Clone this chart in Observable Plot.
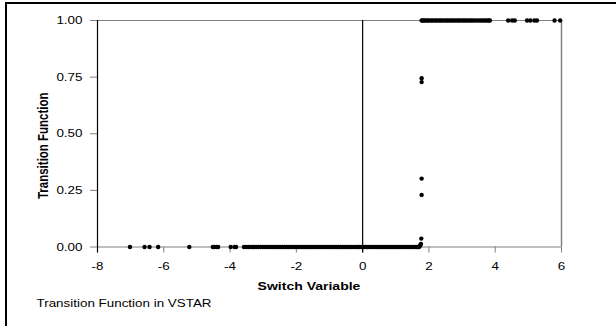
<!DOCTYPE html>
<html>
<head>
<meta charset="utf-8">
<script src="https://cdn.jsdelivr.net/npm/d3@7"></script>
<script src="https://cdn.jsdelivr.net/npm/@observablehq/plot@0.6"></script>
<style>
  html, body { margin: 0; padding: 0; background: #fff; }
  #wrap { position: relative; width: 616px; height: 326px; overflow: hidden; }
  #bt { position: absolute; left: 5px; top: 2px; width: 611px; height: 2px; background: #000; }
  #bl { position: absolute; left: 5px; top: 2px; width: 2px; height: 324px; background: #000; }
  svg text { font-family: "Liberation Sans", Arial, sans-serif; }
</style>
</head>
<body>
<div id="wrap"><div id="bt"></div><div id="bl"></div></div>
<script>
// Switch variable values with transition function ≈ 0 (lower band)
const lowX = [-7.02, -6.58, -6.43, -6.17, -5.23, -4.52, -4.47, -4.40, -4.36, -3.98, -3.86, -3.82,
  -3.58, -3.52, -3.45, -3.40, -3.33, -3.27, -3.21, -3.14, -3.08, -3.02, -2.95, -2.90, -2.84, -2.77,
  -2.71, -2.66, -2.60, -2.53, -2.48, -2.42, -2.36, -2.30, -2.24, -2.18, -2.12, -2.06, -2.01, -1.95,
  -1.89, -1.83, -1.77, -1.71, -1.66, -1.60, -1.54, -1.48, -1.42, -1.37, -1.31, -1.25, -1.19, -1.13,
  -1.08, -1.02, -0.96, -0.90, -0.85, -0.79, -0.73, -0.67, -0.61, -0.56, -0.50, -0.44, -0.38, -0.33,
  -0.27, -0.21, -0.15, -0.10, -0.04, 0.02, 0.08, 0.13, 0.19, 0.25, 0.31, 0.36, 0.42, 0.48, 0.54,
  0.59, 0.65, 0.71, 0.77, 0.82, 0.88, 0.94, 1.00, 1.05, 1.11, 1.17, 1.23, 1.28, 1.34, 1.40, 1.46,
  1.51, 1.57, 1.62, 1.66, 1.70];
// Transition region points
const midX = [1.72, 1.74, 1.76, 1.77, 1.78, 1.78, 1.78, 1.78];
const midY = [0.004, 0.008, 0.014, 0.037, 0.230, 0.302, 0.728, 0.745];
// Switch variable values with transition function ≈ 1 (upper band)
const highX = [1.78, 1.82, 1.86, 1.91, 1.96, 2.01, 2.07, 2.12, 2.18, 2.23, 2.29, 2.35, 2.40, 2.46,
  2.52, 2.57, 2.63, 2.69, 2.74, 2.80, 2.86, 2.91, 2.97, 3.03, 3.08, 3.14, 3.20, 3.26, 3.32, 3.38,
  3.45, 3.52, 3.58, 3.64, 3.70, 3.76, 3.81, 3.84, 4.39, 4.51, 4.59, 4.96, 5.06, 5.18, 5.26, 5.79, 5.96];
const xTicks = [-8, -6, -4, -2, 0, 2, 4, 6];
const yTicks = [0, 0.25, 0.5, 0.75, 1];
const xTitle = "Switch Variable";
const yTitle = "Transition Function";
const caption = "Transition Function in VSTAR";

const pts = [
  ...lowX.map(x => ({x, y: 0})),
  ...midX.map((x, i) => ({x, y: midY[i]})),
  ...highX.map(x => ({x, y: 1}))
];

const gray = "#808080";
const chart = Plot.plot({
  width: 616,
  height: 326,
  marginLeft: 97,
  marginRight: 55,
  marginTop: 20,
  marginBottom: 79.5,
  style: {background: "transparent", fontFamily: "Liberation Sans, Arial, sans-serif"},
  x: {domain: [-8, 6]},
  y: {domain: [0, 1]},
  marks: [
    Plot.axisX({ticks: xTicks, tickSize: 6, tickPadding: 9, stroke: gray, fill: "#000", fontSize: 11, tickFormat: d => String(d), label: null}),
    Plot.axisY({ticks: yTicks, tickSize: 7, tickPadding: 8, stroke: gray, fill: "#000", fontSize: 11, tickFormat: d3.format(".2f"), label: null}),
    Plot.ruleY([0, 1], {stroke: gray, strokeWidth: 1.2}),
    Plot.ruleX([6], {stroke: gray, strokeWidth: 1.5}),
    Plot.ruleX([-8, 0], {stroke: "#000", strokeWidth: 1.2, insetBottom: -6}),
    Plot.dot(pts, {x: "x", y: "y", r: 2.2, fill: "#000", stroke: null}),
    Plot.text([xTitle], {frameAnchor: "bottom", dx: -20.5, dy: 39, fontSize: 11.5, fontWeight: "bold", textAnchor: "middle", lineAnchor: "middle", fill: "#000"}),
    Plot.text([yTitle], {frameAnchor: "left", rotate: -90, dx: -54, dy: 12, fontSize: 11.5, fontWeight: "bold", textAnchor: "middle", lineAnchor: "middle", fill: "#000"}),
    Plot.text([caption], {frameAnchor: "bottom-left", dx: -61, dy: 56.5, fontSize: 11, textAnchor: "start", lineAnchor: "middle", fill: "#000"})
  ]
});
chart.style.position = "absolute";
chart.style.left = "0px";
chart.style.top = "0px";
document.getElementById("wrap").appendChild(chart);

// horizontal stretch of the text, as in the reference rendering
chart.querySelectorAll("text").forEach(t => {
  const tr = t.getAttribute("transform") || "";
  const isRot = /rotate\(-90\)/.test(tr);
  t.setAttribute("transform", tr + (isRot ? " scale(1,1.22)" : " scale(1.22,1)"));
});
</script>
</body>
</html>
